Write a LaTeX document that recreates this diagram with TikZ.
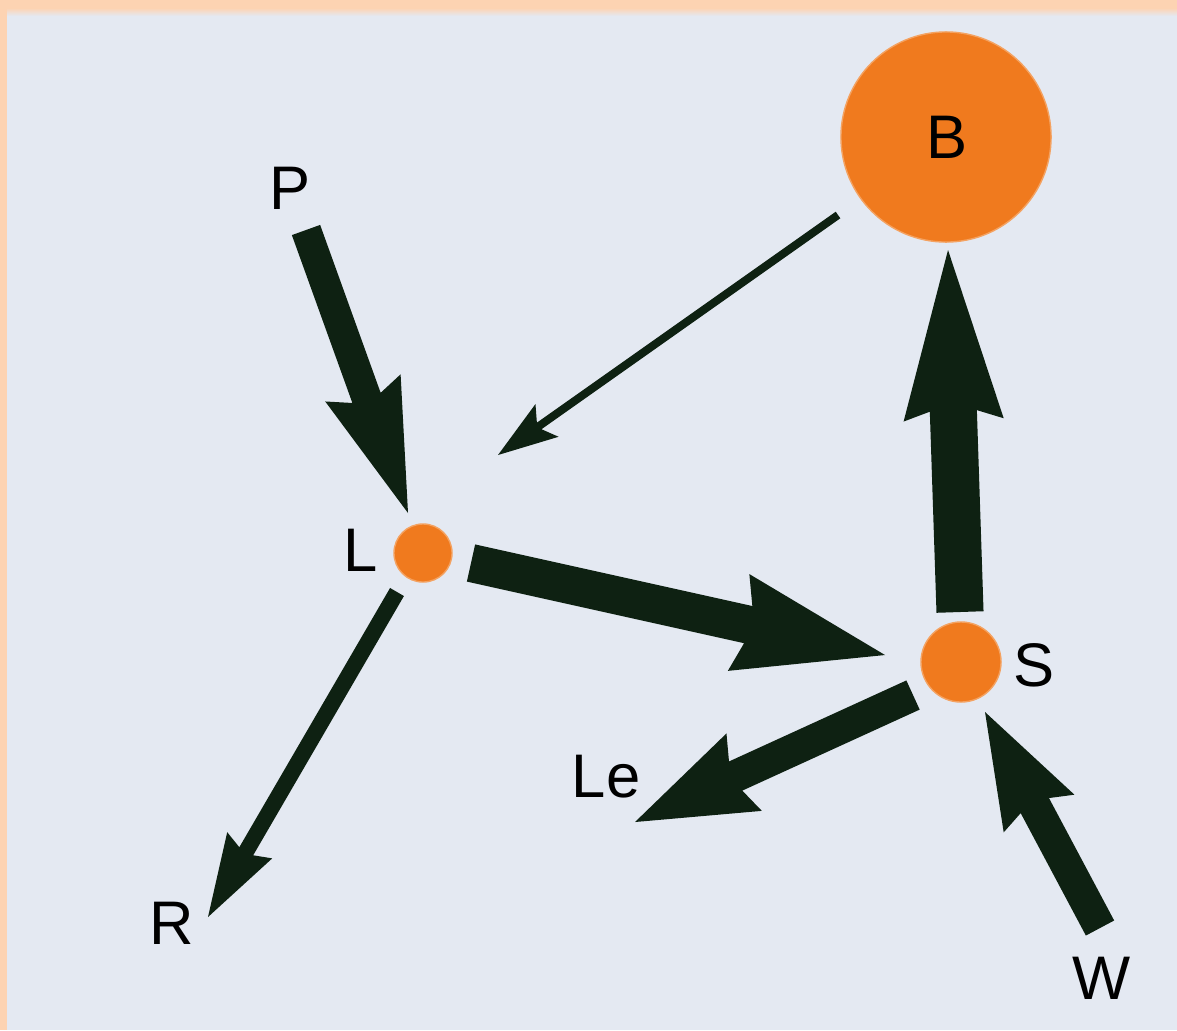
\documentclass[tikz,border=0pt]{standalone}
\usepackage{fontspec}
\setmainfont{Liberation Sans}
\usetikzlibrary{calc}

\definecolor{framepeach}{RGB}{253,211,178}
\definecolor{panelgrey}{RGB}{228,233,242}
\definecolor{poolorange}{RGB}{240,122,30}
\definecolor{flowdark}{RGB}{14,33,18}

\tikzset{
  pool/.style={circle, fill=poolorange, draw=poolorange!70!white, line width=0.4pt, inner sep=0pt},
  lbl/.style={inner sep=0pt, text=black, font=\fontsize{17.5pt}{19pt}\selectfont},
  flowfill/.style={fill=flowdark}
}

% Block arrow as a filled polygon:
% #1 tail, #2 tip, #3 shaft width, #4 head length, #5 head width, #6 inset (all in px units)
\newcommand\blockarrow[6]{%
  \pgfmathsetlengthmacro\baS{#3*0.005cm}%
  \pgfmathsetlengthmacro\baH{#5*0.005cm}%
  \pgfmathsetlengthmacro\baL{#4*0.01cm}%
  \pgfmathsetlengthmacro\baJ{(#4-#6*(1-#3/#5))*0.01cm}%
  \coordinate (ba-base) at ($(#2)!\baL!(#1)$);
  \coordinate (ba-join) at ($(#2)!\baJ!(#1)$);
  \fill[flowfill]
    ($(#1)!\baS!90:(#2)$) --
    ($(ba-join)!\baS!90:(#2)$) --
    ($(ba-base)!\baH!90:(#2)$) --
    (#2) --
    ($(ba-base)!\baH!-90:(#2)$) --
    ($(ba-join)!\baS!-90:(#2)$) --
    ($(#1)!\baS!-90:(#2)$) -- cycle;
}

\begin{document}
\begin{tikzpicture}[x=0.01cm, y=-0.01cm]
  % frame and panel
  \useasboundingbox (0,0) rectangle (1177,1030);
  \fill[framepeach] (0,0) rectangle (1177,1030);
  \fill[panelgrey] (7,13) rectangle (1177,1030);
  \shade[top color=framepeach, bottom color=panelgrey] (7,8) rectangle (1177,16);

  % pools
  \node[pool, minimum size=2.1cm] (B) at (946,137) {};
  \node[lbl] (Blabel) at (947,137) {B};
  \node[pool, minimum size=0.58cm] (L) at (423,553) {};
  \node[pool, minimum size=0.8cm] (S) at (961,662) {};

  % labels
  \node[lbl] (P)  at (290,188) {P};
  \node[lbl] (Ll) at (361,550) {L};
  \node[lbl] (Sl) at (1034,665) {S};
  \node[lbl] (Le) at (606,777) {Le};
  \node[lbl] (R)  at (172,923) {R};
  \node[lbl] (W)  at (1102,978) {W};

  % arrow ends
  \coordinate (pl-a) at (306,230);  \coordinate (pl-b) at (408,513);
  \coordinate (bl-a) at (838,215);  \coordinate (bl-b) at (498,455);
  \coordinate (lr-a) at (397,592);  \coordinate (lr-b) at (208,917);
  \coordinate (ls-a) at (471,563);  \coordinate (ls-b) at (885,655);
  \coordinate (sb-a) at (960,612);  \coordinate (sb-b) at (948,250);
  \coordinate (sle-a) at (913,695); \coordinate (sle-b) at (635,822);
  \coordinate (ws-a) at (1100,928); \coordinate (ws-b) at (985,712);

  % flows
  \blockarrow{pl-a}{pl-b}{30}{133}{80}{17}
  \blockarrow{bl-a}{bl-b}{8}{60}{40}{12}
  \blockarrow{lr-a}{lr-b}{16}{83}{52}{10}
  \blockarrow{ls-a}{ls-b}{38}{150}{99}{16}
  \blockarrow{sb-a}{sb-b}{47}{170}{100}{17}
  \blockarrow{sle-a}{sle-b}{32}{120}{85}{15}
  \blockarrow{ws-a}{ws-b}{32}{115}{80}{15}
\end{tikzpicture}
\end{document}
